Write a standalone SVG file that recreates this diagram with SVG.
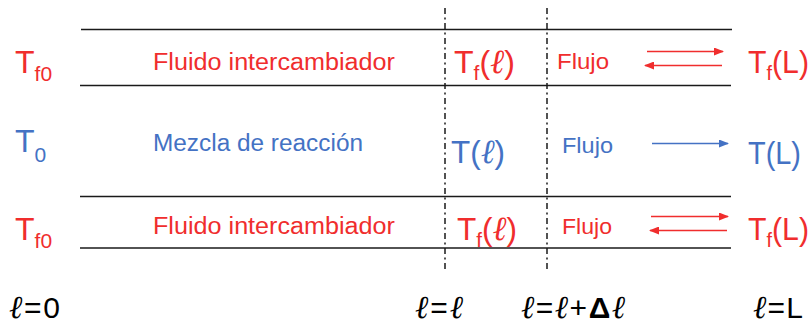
<svg xmlns="http://www.w3.org/2000/svg" width="811" height="327" viewBox="0 0 811 327">
<defs>
<style>
text{font-family:"Liberation Sans",Arial,sans-serif}
.r{fill:#F02D2D}
.b{fill:#4472C4}
.k{fill:#000}
.big{font-size:32px}
.sub{font-size:21px}
.lab{font-size:23px}
.flo{font-size:22px}
.ell{font-family:"DejaVu Serif",serif;font-style:italic}
.wall{stroke:#1a1a1a;stroke-width:1.6;fill:none}
.cut{stroke:#1a1a1a;stroke-width:1.5;fill:none;stroke-dasharray:6 3.5 2 3.5}
.ar{stroke:#F02D2D;stroke-width:1.4;fill:none}
.ab{stroke:#4472C4;stroke-width:1.4;fill:none}
</style>
<marker id="hr" markerWidth="10" markerHeight="8" refX="9" refY="4" orient="auto" markerUnits="userSpaceOnUse"><path d="M0,0 L10,4 L0,8 Z" fill="#F02D2D"/></marker>
<marker id="hb" markerWidth="10" markerHeight="8" refX="9" refY="4" orient="auto" markerUnits="userSpaceOnUse"><path d="M0,0 L10,4 L0,8 Z" fill="#4472C4"/></marker>
</defs>
<g id="walls">
<line class="wall" x1="81" y1="29.5" x2="732" y2="29.5"/>
<line class="wall" x1="80" y1="85.5" x2="731" y2="85.5"/>
<line class="wall" x1="80" y1="196.5" x2="731" y2="196.5"/>
<line class="wall" x1="80" y1="248" x2="731" y2="248"/>
</g>
<g id="cuts">
<line class="cut" x1="445" y1="8" x2="445" y2="272"/>
<line class="cut" x1="547" y1="8" x2="547" y2="272"/>
</g>
<g id="connectors">
<line class="ar" x1="647" y1="51.5" x2="723" y2="51.5" marker-end="url(#hr)"/>
<line class="ar" x1="722" y1="65.5" x2="645" y2="65.5" marker-end="url(#hr)"/>
<line class="ab" x1="652" y1="143.5" x2="728" y2="143.5" marker-end="url(#hb)"/>
<line class="ar" x1="651" y1="216.5" x2="728" y2="216.5" marker-end="url(#hr)"/>
<line class="ar" x1="727" y1="230.5" x2="650" y2="230.5" marker-end="url(#hr)"/>
</g>
<g id="top-fluid">
<text class="r big" x="15" y="73">T<tspan class="sub" dy="8">f0</tspan></text>
<text class="r lab" x="153" y="70" textLength="242" lengthAdjust="spacingAndGlyphs">Fluido intercambiador</text>
<text class="r big" x="454" y="73" textLength="61" lengthAdjust="spacingAndGlyphs">T<tspan class="sub" dy="7">f</tspan><tspan dy="-7">(</tspan><tspan class="ell" font-size="34">ℓ</tspan>)</text>
<text class="r flo" x="557" y="69" textLength="52" lengthAdjust="spacingAndGlyphs">Flujo</text>
<text class="r big" x="748" y="73" textLength="61" lengthAdjust="spacingAndGlyphs">T<tspan class="sub" dy="7">f</tspan><tspan dy="-7">(L)</tspan></text>
</g>
<g id="mixture">
<text class="b big" x="15" y="152">T<tspan class="sub" dy="10">0</tspan></text>
<text class="b lab" x="153" y="151" textLength="210" lengthAdjust="spacingAndGlyphs">Mezcla de reacción</text>
<text class="b big" x="451" y="163" textLength="54" lengthAdjust="spacingAndGlyphs">T(<tspan class="ell" font-size="34">ℓ</tspan>)</text>
<text class="b flo" x="562" y="153" textLength="51" lengthAdjust="spacingAndGlyphs">Flujo</text>
<text class="b big" x="748" y="164" textLength="53" lengthAdjust="spacingAndGlyphs">T(L)</text>
</g>
<g id="bottom-fluid">
<text class="r big" x="15" y="240">T<tspan class="sub" dy="8">f0</tspan></text>
<text class="r lab" x="153" y="234" textLength="242" lengthAdjust="spacingAndGlyphs">Fluido intercambiador</text>
<text class="r big" x="457" y="240" textLength="60" lengthAdjust="spacingAndGlyphs">T<tspan class="sub" dy="7">f</tspan><tspan dy="-7">(</tspan><tspan class="ell" font-size="34">ℓ</tspan>)</text>
<text class="r flo" x="562" y="234" textLength="50" lengthAdjust="spacingAndGlyphs">Flujo</text>
<text class="r big" x="748" y="240" textLength="61" lengthAdjust="spacingAndGlyphs">T<tspan class="sub" dy="7">f</tspan><tspan dy="-7">(L)</tspan></text>
</g>
<g id="positions" font-size="30">
<text class="k" x="9" y="318" textLength="51" lengthAdjust="spacing"><tspan class="ell" font-size="32">ℓ</tspan>=0</text>
<text class="k" x="415" y="318" textLength="48" lengthAdjust="spacing"><tspan class="ell" font-size="32">ℓ</tspan>=<tspan class="ell" font-size="32">ℓ</tspan></text>
<text class="k" x="521" y="318" textLength="104" lengthAdjust="spacing"><tspan class="ell" font-size="32">ℓ</tspan>=<tspan class="ell" font-size="32">ℓ</tspan>+<tspan font-weight="bold">Δ</tspan><tspan class="ell" font-size="32">ℓ</tspan></text>
<text class="k" x="753" y="318" textLength="50" lengthAdjust="spacing"><tspan class="ell" font-size="32">ℓ</tspan>=L</text>
</g>
</svg>
